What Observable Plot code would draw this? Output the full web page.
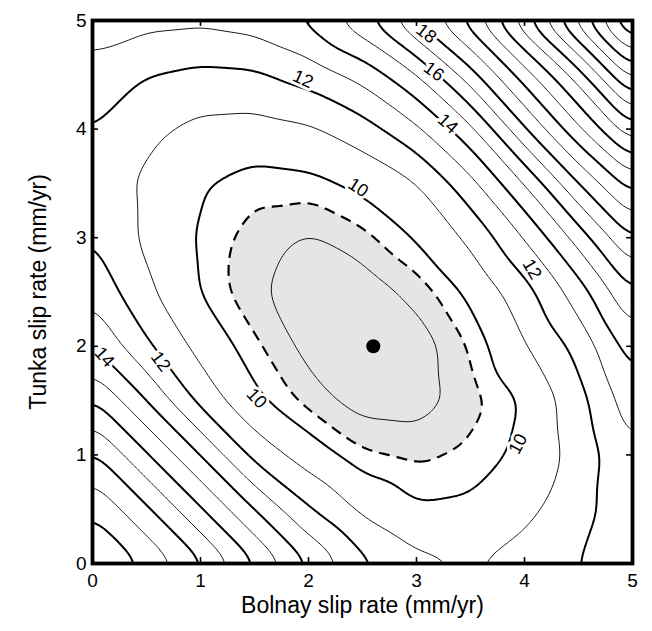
<!DOCTYPE html>
<html><head><meta charset="utf-8">
<script src="https://cdn.jsdelivr.net/npm/d3@7"></script>
<script src="https://cdn.jsdelivr.net/npm/@observablehq/plot@0.6"></script>
<style>body{margin:0;background:#fff;}</style>
</head><body><div id="chart"></div>
<script>
// grid nodes (mm/yr)
const gridX = [0, 0.5, 1, 1.5, 2, 2.5, 3, 3.5, 4, 4.5, 5];
const gridY = [5, 4.5, 4, 3.5, 3, 2.5, 2, 1.5, 1, 0.5, 0]; // rows, top to bottom
// misfit values, one row per gridY value
const misfit = [
  [13.4, 13.3, 13.25, 13.45, 14.2, 15.7, 18.1, 20.5, 23.8, 27.5, 31.5],
  [12.7, 12.0, 11.73, 11.82, 12.4, 13.33, 14.9, 17.6, 20.5, 23.5, 27.5],
  [12.0, 11.2, 10.73, 10.61, 10.84, 11.56, 12.8, 14.7, 17.9, 20.8, 23.8],
  [11.55, 10.82, 10.05, 9.65, 9.75, 10.2, 10.92, 12.67, 15.0, 18.0, 20.5],
  [12.0, 10.78, 9.88, 9.25, 8.9, 9.32, 10.05, 11.2, 13.0, 15.4, 18.1],
  [12.77, 11.19, 9.95, 9.1, 8.68, 8.62, 9.15, 10.15, 11.6, 13.46, 16.0],
  [14.0, 12.15, 10.66, 9.62, 8.78, 8.45, 8.62, 9.52, 10.9, 12.27, 14.5],
  [16.1, 14.0, 11.67, 10.17, 9.28, 8.72, 8.7, 9.25, 10.03, 11.6, 13.6],
  [18.2, 16.1, 14.0, 11.65, 10.5, 9.55, 9.35, 9.6, 10.2, 11.35, 12.85],
  [19.85, 18.2, 16.1, 14.0, 12.05, 10.76, 10.05, 10.15, 10.7, 11.65, 12.6],
  [21.2, 19.85, 18.2, 16.1, 14.0, 12.23, 11.27, 10.93, 11.45, 12.0, 12.5]
];
const thinLevels = [9, 11, 13, 15, 17, 19, 21, 23, 25, 27, 29, 31];
const thickLevels = [10, 12, 14, 16, 18, 20, 22, 24, 26, 28, 30, 32];
const dashedLevel = [9.5];
const bestFit = [{x: 2.6, y: 2.0}];
const labelText = ["18", "16", "14", "12", "10", "12", "10", "10", "12", "14"];
const labelX = [3.09, 3.16, 3.29, 1.95, 2.46, 4.07, 3.94, 1.52, 0.63, 0.11];
const labelY = [4.88, 4.53, 4.05, 4.46, 3.46, 2.71, 1.10, 1.52, 1.86, 1.90];
const labelAngle = [38, 36, 42, 24, 33, 60, -62, 47, 53, 48];
const tickValues = [0, 1, 2, 3, 4, 5];
const xTitle = "Bolnay slip rate (mm/yr)";
const yTitle = "Tunka slip rate (mm/yr)";

const grid = [];
gridY.forEach((y, i) => gridX.forEach((x, j) => grid.push({x, y, v: misfit[i][j]})));
const labels = labelText.map((t, i) => ({t, x: labelX[i], y: labelY[i], r: labelAngle[i]}));

const common = {x: "x", y: "y", interpolate: "barycentric", pixelSize: 1, blur: 11};

const chart = Plot.plot({
  width: 652, height: 631,
  marginLeft: 92, marginRight: 20, marginTop: 20, marginBottom: 68,
  x: {domain: [0, 5], axis: null},
  y: {domain: [0, 5], axis: null},
  style: {fontFamily: "'Liberation Sans', Arial, sans-serif", background: "white", color: "black"},
  marks: [
    Plot.contour(grid, {...common, value: d => -d.v, thresholds: dashedLevel.map(t => -t), fill: "#e5e5e5", stroke: "none"}),
    Plot.contour(grid, {...common, value: "v", thresholds: thinLevels, fill: "none", stroke: "black", strokeWidth: 0.9}),
    Plot.contour(grid, {...common, value: "v", thresholds: thickLevels, fill: "none", stroke: "black", strokeWidth: 2}),
    Plot.contour(grid, {...common, value: "v", thresholds: dashedLevel, fill: "none", stroke: "black", strokeWidth: 2.2, strokeDasharray: "11,7"}),
    Plot.text(labels, {x: "x", y: "y", text: "t", rotate: "r", fontSize: 18, fill: "black", stroke: "white", strokeWidth: 6, paintOrder: "stroke"}),
    Plot.dot(bestFit, {x: "x", y: "y", r: 7, fill: "black"}),
    Plot.ruleX(tickValues, {x: d => d, y1: 0, y2: 0.055, stroke: "black", strokeWidth: 1.6}),
    Plot.ruleX(tickValues, {x: d => d, y1: 4.945, y2: 5, stroke: "black", strokeWidth: 1.6}),
    Plot.ruleY(tickValues, {y: d => d, x1: 0, x2: 0.055, stroke: "black", strokeWidth: 1.6}),
    Plot.ruleY(tickValues, {y: d => d, x1: 4.945, x2: 5, stroke: "black", strokeWidth: 1.6}),
    Plot.frame({stroke: "black", strokeWidth: 3.8}),
    Plot.text(tickValues, {x: d => d, text: d => String(d), frameAnchor: "bottom", lineAnchor: "top", dy: 10, fontSize: 19, fill: "black"}),
    Plot.text(tickValues, {y: d => d, text: d => String(d), frameAnchor: "left", textAnchor: "end", dx: -6, fontSize: 19, fill: "black"}),
    Plot.text([xTitle], {text: d => d, frameAnchor: "bottom", textAnchor: "middle", lineAnchor: "middle", dy: 42, fontSize: 23, fill: "black"}),
    Plot.text([yTitle], {text: d => d, frameAnchor: "left", textAnchor: "middle", lineAnchor: "middle", dx: -54, rotate: -90, fontSize: 23, fill: "black"})
  ]
});
document.getElementById("chart").appendChild(chart);
</script>
</body></html>
